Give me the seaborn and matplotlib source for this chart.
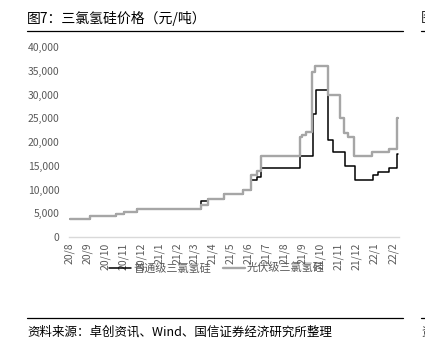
import pandas as pd
import matplotlib.pyplot as plt
import matplotlib.dates as mdates
from matplotlib.lines import Line2D
from matplotlib.ticker import FuncFormatter
import seaborn as sns

# 普通级三氯氢硅 (元/吨) - 价格变动日期及价格
ord_dates = ['2020-08-03', '2020-09-05', '2020-10-20', '2020-11-03', '2020-11-24',
             '2021-03-13', '2021-03-24', '2021-04-21', '2021-05-22', '2021-06-06',
             '2021-06-16', '2021-06-23', '2021-08-28', '2021-09-18', '2021-09-23',
             '2021-10-13', '2021-10-22', '2021-11-11', '2021-11-29', '2021-12-29',
             '2022-01-06', '2022-01-25', '2022-02-07', '2022-02-09']
ord_prices = [3800, 4400, 4900, 5200, 6000,
              7600, 8000, 9000, 10000, 12000,
              12700, 14500, 17000, 26000, 31000,
              20500, 18000, 15000, 12000, 13000,
              13700, 14500, 17500, 17500]

# 光伏级三氯氢硅 (元/吨)
pv_dates = ['2020-08-03', '2020-09-05', '2020-10-20', '2020-11-03', '2020-11-24',
            '2021-03-13', '2021-03-24', '2021-04-21', '2021-05-22', '2021-06-05',
            '2021-06-16', '2021-06-23', '2021-08-27', '2021-08-31', '2021-09-07',
            '2021-09-17', '2021-09-21', '2021-10-13', '2021-11-03', '2021-11-10',
            '2021-11-17', '2021-11-27', '2021-12-28', '2022-01-25', '2022-02-07',
            '2022-02-09']
pv_prices = [3800, 4400, 4900, 5200, 6000,
             6700, 8000, 9000, 10000, 13000,
             14000, 17000, 21000, 21500, 22200,
             34800, 36000, 30000, 25000, 22000,
             21000, 17000, 18000, 18500, 25000,
             25000]

LABEL_ORD = "普通级三氯氢硅"
LABEL_PV = "光伏级三氯氢硅"

df_ord = pd.DataFrame({"date": pd.to_datetime(ord_dates), "price": ord_prices})
df_pv = pd.DataFrame({"date": pd.to_datetime(pv_dates), "price": pv_prices})

sns.set_theme(style="white")
plt.rcParams['font.family'] = ['Noto Sans CJK SC', 'DejaVu Sans']

fig = plt.figure(figsize=(4.25, 3.51), dpi=100)
ax = fig.add_axes([69 / 425, 1 - 237 / 351, 330 / 425, 190 / 351])

sns.lineplot(data=df_ord, x="date", y="price", ax=ax, color="black",
             linewidth=1.1, drawstyle="steps-post", label=LABEL_ORD)
sns.lineplot(data=df_pv, x="date", y="price", ax=ax, color="#A6A6A6",
             linewidth=1.7, drawstyle="steps-post", label=LABEL_PV)

ax.set_ylim(0, 40000)
ax.set_yticks(range(0, 40001, 5000))
ax.yaxis.set_major_formatter(FuncFormatter(lambda v, p: f"{v:,.0f}"))
ax.set_xlim(pd.Timestamp("2020-08-01"), pd.Timestamp("2022-02-11"))
ax.xaxis.set_major_locator(mdates.MonthLocator())
ax.xaxis.set_major_formatter(FuncFormatter(
    lambda v, p: f"{mdates.num2date(v).year % 100}/{mdates.num2date(v).month}"))

ax.set_xlabel("")
ax.set_ylabel("")
for s in ["left", "top", "right"]:
    ax.spines[s].set_visible(False)
ax.spines["bottom"].set_color("#D9D9D9")
ax.spines["bottom"].set_linewidth(1.0)
ax.tick_params(axis="both", length=0, colors="#595959", labelsize=7.5)
ax.tick_params(axis="y", pad=7)
ax.tick_params(axis="x", pad=4)
for lbl in ax.get_xticklabels():
    lbl.set_rotation(90)

leg = ax.legend(loc="center", bbox_to_anchor=(217 / 425, 1 - 268 / 351),
                bbox_transform=fig.transFigure, ncol=2, frameon=False,
                fontsize=8, handlelength=2.0, columnspacing=1.0,
                handletextpad=0.2)
for t in leg.get_texts():
    t.set_color("#595959")

# 标题及来源
fig.text(27 / 425, 1 - 18 / 351, "图7：三氯氢硅价格（元/吨）", fontsize=10,
         ha="left", va="center", color="black")
fig.add_artist(Line2D([27 / 425, 403 / 425], [1 - 31 / 351] * 2,
                      color="black", linewidth=0.9))
fig.text(27 / 425, 1 - 332 / 351, "资料来源：卓创资讯、Wind、国信证券经济研究所整理",
         fontsize=9, ha="left", va="center", color="black")
fig.add_artist(Line2D([27 / 425, 403 / 425], [1 - 318 / 351] * 2,
                      color="black", linewidth=0.9))

# 右侧相邻图表的残留部分
fig.text(421 / 425, 1 - 18 / 351, "图", fontsize=10, ha="left", va="center")
fig.add_artist(Line2D([421 / 425, 1.0], [1 - 31 / 351] * 2, color="black", linewidth=0.9))
fig.text(421 / 425, 1 - 332 / 351, "资", fontsize=9, ha="left", va="center")
fig.add_artist(Line2D([421 / 425, 1.0], [1 - 318 / 351] * 2, color="black", linewidth=0.9))

fig.savefig("out.png", dpi=100)
